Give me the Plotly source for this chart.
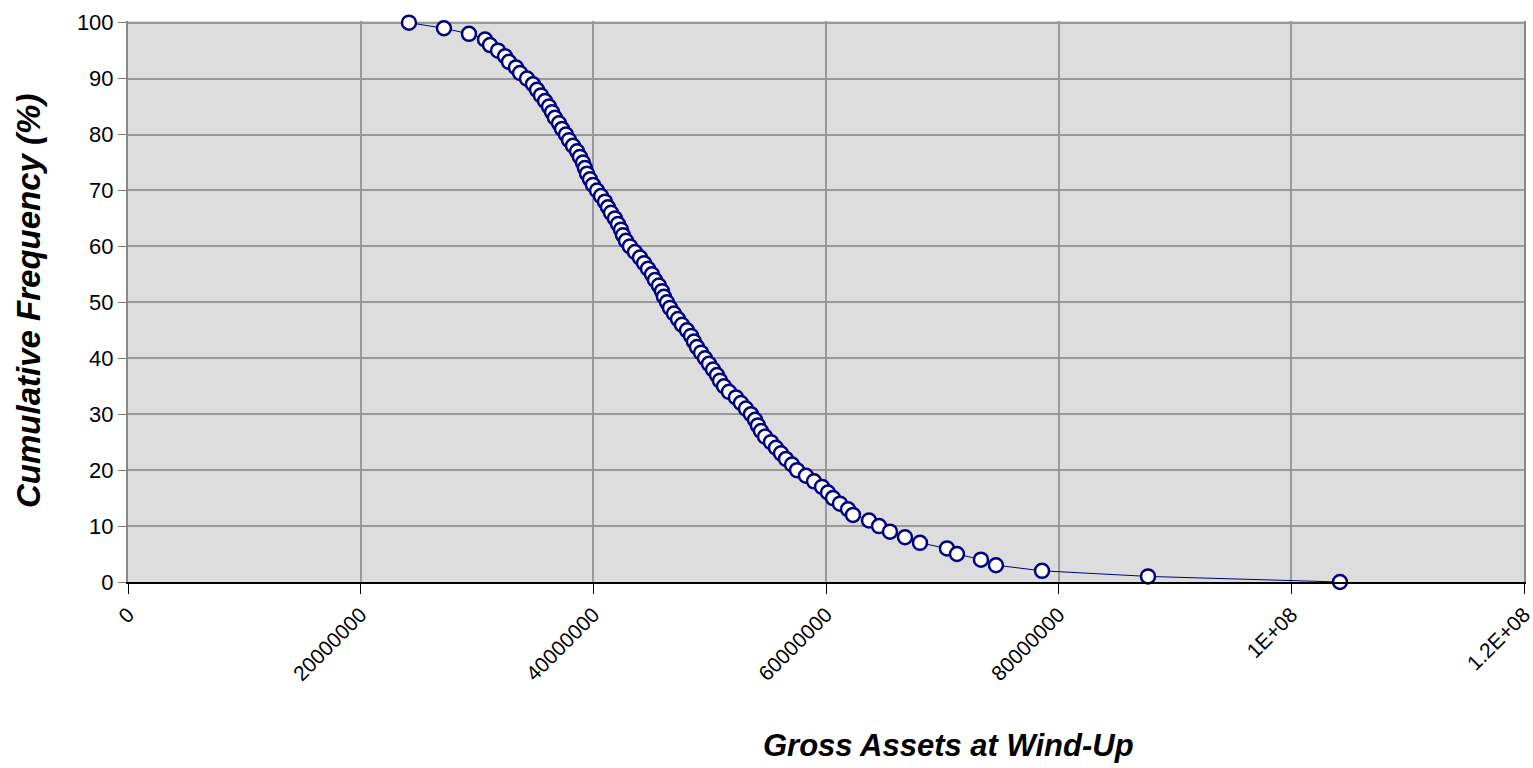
import plotly.graph_objects as go

# Cumulative frequency (%) and gross assets at wind-up
cum_freq = list(range(100, -1, -1))
gross_assets = [
    24150000, 27160000, 29310000, 30690000, 31120000, 31810000, 32410000, 32750000, 33350000, 33700000,
    34300000, 34810000, 35160000, 35500000, 35850000, 36190000, 36450000, 36700000, 37050000, 37310000,
    37650000, 37910000, 38250000, 38600000, 38850000, 39110000, 39280000, 39460000, 39710000, 39970000,
    40320000, 40660000, 41000000, 41260000, 41520000, 41860000, 42120000, 42380000, 42550000, 42810000,
    43150000, 43580000, 44010000, 44360000, 44700000, 45040000, 45300000, 45640000, 45900000, 46070000,
    46330000, 46590000, 46930000, 47280000, 47620000, 48050000, 48400000, 48650000, 48910000, 49260000,
    49600000, 49940000, 50290000, 50630000, 50890000, 51230000, 51660000, 52260000, 52690000, 53120000,
    53550000, 53900000, 54150000, 54410000, 54760000, 55270000, 55700000, 56130000, 56560000, 57080000,
    57510000, 58280000, 58970000, 59660000, 60170000, 60600000, 61200000, 61890000, 62320000, 63700000,
    64560000, 65500000, 66790000, 68080000, 70400000, 71260000, 73320000, 74610000, 78570000, 87680000,
    104180000,
]

x_tick_vals = [0, 20000000, 40000000, 60000000, 80000000, 100000000, 120000000]
x_tick_text = ["0", "20000000", "40000000", "60000000", "80000000", "1E+08", "1.2E+08"]
y_tick_vals = [0, 10, 20, 30, 40, 50, 60, 70, 80, 90, 100]

x_title = "Gross Assets at Wind-Up"
y_title = "Cumulative Frequency (%)"

FONT = "Liberation Sans, Arial, sans-serif"
W, H = 1533, 768
L, T, PW, PH = 128, 21, 1396, 561

fig = go.Figure()
fig.add_trace(go.Scatter(
    x=gross_assets, y=cum_freq, mode="lines+markers",
    line=dict(color="#000080", width=1),
    marker=dict(size=14, color="white", line=dict(color="#000080", width=2.5)),
    cliponaxis=False, showlegend=False,
))

fig.update_layout(
    width=W, height=H,
    margin=dict(l=L, r=W - L - PW, t=T, b=H - T - PH, autoexpand=False),
    paper_bgcolor="white", plot_bgcolor="#DDDDDD",
    font=dict(family=FONT, size=21, color="black"),
    xaxis=dict(
        range=[0, 120000000], tickvals=x_tick_vals, ticktext=x_tick_text,
        tickangle=-45, ticks="outside", ticklen=10, tickwidth=1, tickcolor="black",
        showgrid=True, gridcolor="#999999", gridwidth=2,
        showline=True, linecolor="black", linewidth=2, zeroline=False,
        tickfont=dict(family=FONT, size=21), ticklabeloverflow="allow",
    ),
    yaxis=dict(
        range=[0, 100.3], tickvals=y_tick_vals, ticks="outside", ticklen=8,
        tickwidth=1, tickcolor="#777777",
        showgrid=True, gridcolor="#999999", gridwidth=2,
        showline=True, linecolor="#888888", linewidth=2, zeroline=False, mirror=True,
        tickfont=dict(family=FONT, size=22), ticklabeloverflow="allow",
    ),
    annotations=[
        dict(text="<b><i>" + x_title + "</i></b>", xref="paper", yref="paper",
             x=(948 - L) / PW, y=-(745 - 582) / PH, xanchor="center", yanchor="middle",
             showarrow=False, font=dict(family=FONT, size=31)),
        dict(text="<b><i>" + y_title + "</i></b>", xref="paper", yref="paper",
             x=-(L - 28) / PW, y=(582 - 301) / PH, xanchor="center", yanchor="middle",
             textangle=-90, showarrow=False, font=dict(family=FONT, size=33)),
    ],
)

fig.write_html(
    "out.html",
    config={"displayModeBar": False},
    post_script="document.body.style.margin='0';document.body.style.overflow='hidden';",
)
